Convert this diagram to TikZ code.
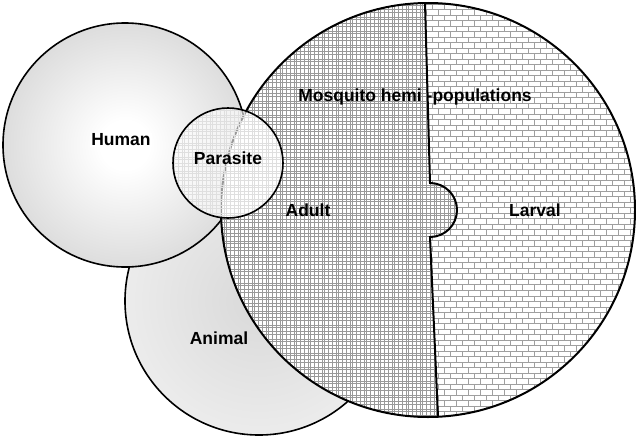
\documentclass[tikz,border=0pt]{standalone}
\usepackage{fontspec}
\setmainfont{Liberation Sans}
\usetikzlibrary{patterns}
% plaid for the adult half
\pgfdeclarepatternformonly{plaid}{\pgfqpoint{-1pt}{-1pt}}{\pgfqpoint{15pt}{15pt}}{\pgfqpoint{14pt}{14pt}}{%
  \pgfsetlinewidth{0.9pt}%
  \pgfpathmoveto{\pgfqpoint{0pt}{-1pt}}\pgfpathlineto{\pgfqpoint{0pt}{15pt}}%
  \pgfpathmoveto{\pgfqpoint{2pt}{-1pt}}\pgfpathlineto{\pgfqpoint{2pt}{15pt}}%
  \pgfpathmoveto{\pgfqpoint{6.5pt}{-1pt}}\pgfpathlineto{\pgfqpoint{6.5pt}{15pt}}%
  \pgfpathmoveto{\pgfqpoint{10pt}{-1pt}}\pgfpathlineto{\pgfqpoint{10pt}{15pt}}%
  \pgfpathmoveto{\pgfqpoint{-1pt}{0pt}}\pgfpathlineto{\pgfqpoint{15pt}{0pt}}%
  \pgfpathmoveto{\pgfqpoint{-1pt}{2pt}}\pgfpathlineto{\pgfqpoint{15pt}{2pt}}%
  \pgfpathmoveto{\pgfqpoint{-1pt}{6.5pt}}\pgfpathlineto{\pgfqpoint{15pt}{6.5pt}}%
  \pgfpathmoveto{\pgfqpoint{-1pt}{10pt}}\pgfpathlineto{\pgfqpoint{15pt}{10pt}}%
  \pgfusepath{stroke}}
% small bricks for the larval half
\pgfdeclarepatternformonly{smallbricks}{\pgfqpoint{-1pt}{-1pt}}{\pgfqpoint{13pt}{12pt}}{\pgfqpoint{12pt}{11pt}}{%
  \pgfsetlinewidth{1pt}%
  \pgfpathmoveto{\pgfqpoint{-1pt}{0pt}}\pgfpathlineto{\pgfqpoint{13pt}{0pt}}%
  \pgfpathmoveto{\pgfqpoint{-1pt}{5.5pt}}\pgfpathlineto{\pgfqpoint{13pt}{5.5pt}}%
  \pgfpathmoveto{\pgfqpoint{0pt}{0pt}}\pgfpathlineto{\pgfqpoint{0pt}{5.5pt}}%
  \pgfpathmoveto{\pgfqpoint{6pt}{5.5pt}}\pgfpathlineto{\pgfqpoint{6pt}{11pt}}%
  \pgfusepath{stroke}}
\pgfdeclareradialshading{humanglow}{\pgfpoint{0bp}{0bp}}{color(0bp)=(white); color(5bp)=(white); color(50bp)=(gray!60)}
\pgfdeclareradialshading{animalglow}{\pgfpoint{0bp}{0bp}}{color(0bp)=(gray!30); color(50bp)=(white)}
\begin{document}
\begin{tikzpicture}[x=1pt, y=-1pt, line width=1.6pt,
  ring/.style={circle, draw, inner sep=0pt, outer sep=0pt},
  lbl/.style={font=\bfseries\fontsize{17.5}{19}\selectfont, inner sep=1pt}]
  \useasboundingbox (0,0) rectangle (636,439);
  \node[ring, minimum size=268pt, shading=animalglow] (animal) at (259,301) {};
  \node[ring, minimum size=244pt, shading=humanglow] (human) at (125,145) {};
  \node[circle, minimum size=414pt, inner sep=0pt, fill=white] (mosq) at (428,210) {};
  \coordinate (dtop) at (425,3);
  \coordinate (dup) at (430,183);
  \coordinate (dlow) at (430,237);
  \coordinate (dbot) at (438,417);
  \begin{scope}
    \clip (mosq.center) circle (207);
    \fill[pattern=smallbricks, pattern color=gray!75] (200,0) rectangle (640,439);
    \fill[white] (200,0) -- (425,0) -- (dup) arc[start angle=-90, end angle=90, radius=27] -- (438,439) -- (200,439) -- cycle;
    \fill[pattern=plaid, pattern color=gray!80] (200,0) -- (425,0) -- (dup) arc[start angle=-90, end angle=90, radius=27] -- (438,439) -- (200,439) -- cycle;
  \end{scope}
  \draw[line width=2pt] (mosq.center) circle (207);
  \draw[line width=2pt] (dtop) -- (dup) arc[start angle=-90, end angle=90, radius=27] -- (dlow) -- (dbot);
  \node[ring, minimum size=110pt, preaction={fill=white, fill opacity=0.6}, pattern=plaid, pattern color=gray!25] (parasite) at (228,163) {};
  \node[lbl, fill=white] (humanlbl) at (121,140) {Human};
  \node[lbl] (parasitelbl) at (228,158) {Parasite};
  \node[lbl] (mosqlbl) at (415,97) {Mosquito hemi -populations};
  \node[lbl] (adultlbl) at (308,210) {Adult};
  \node[lbl] (larvallbl) at (535,210) {Larval};
  \node[lbl] (animallbl) at (219,338) {Animal};
\end{tikzpicture}
\end{document}
